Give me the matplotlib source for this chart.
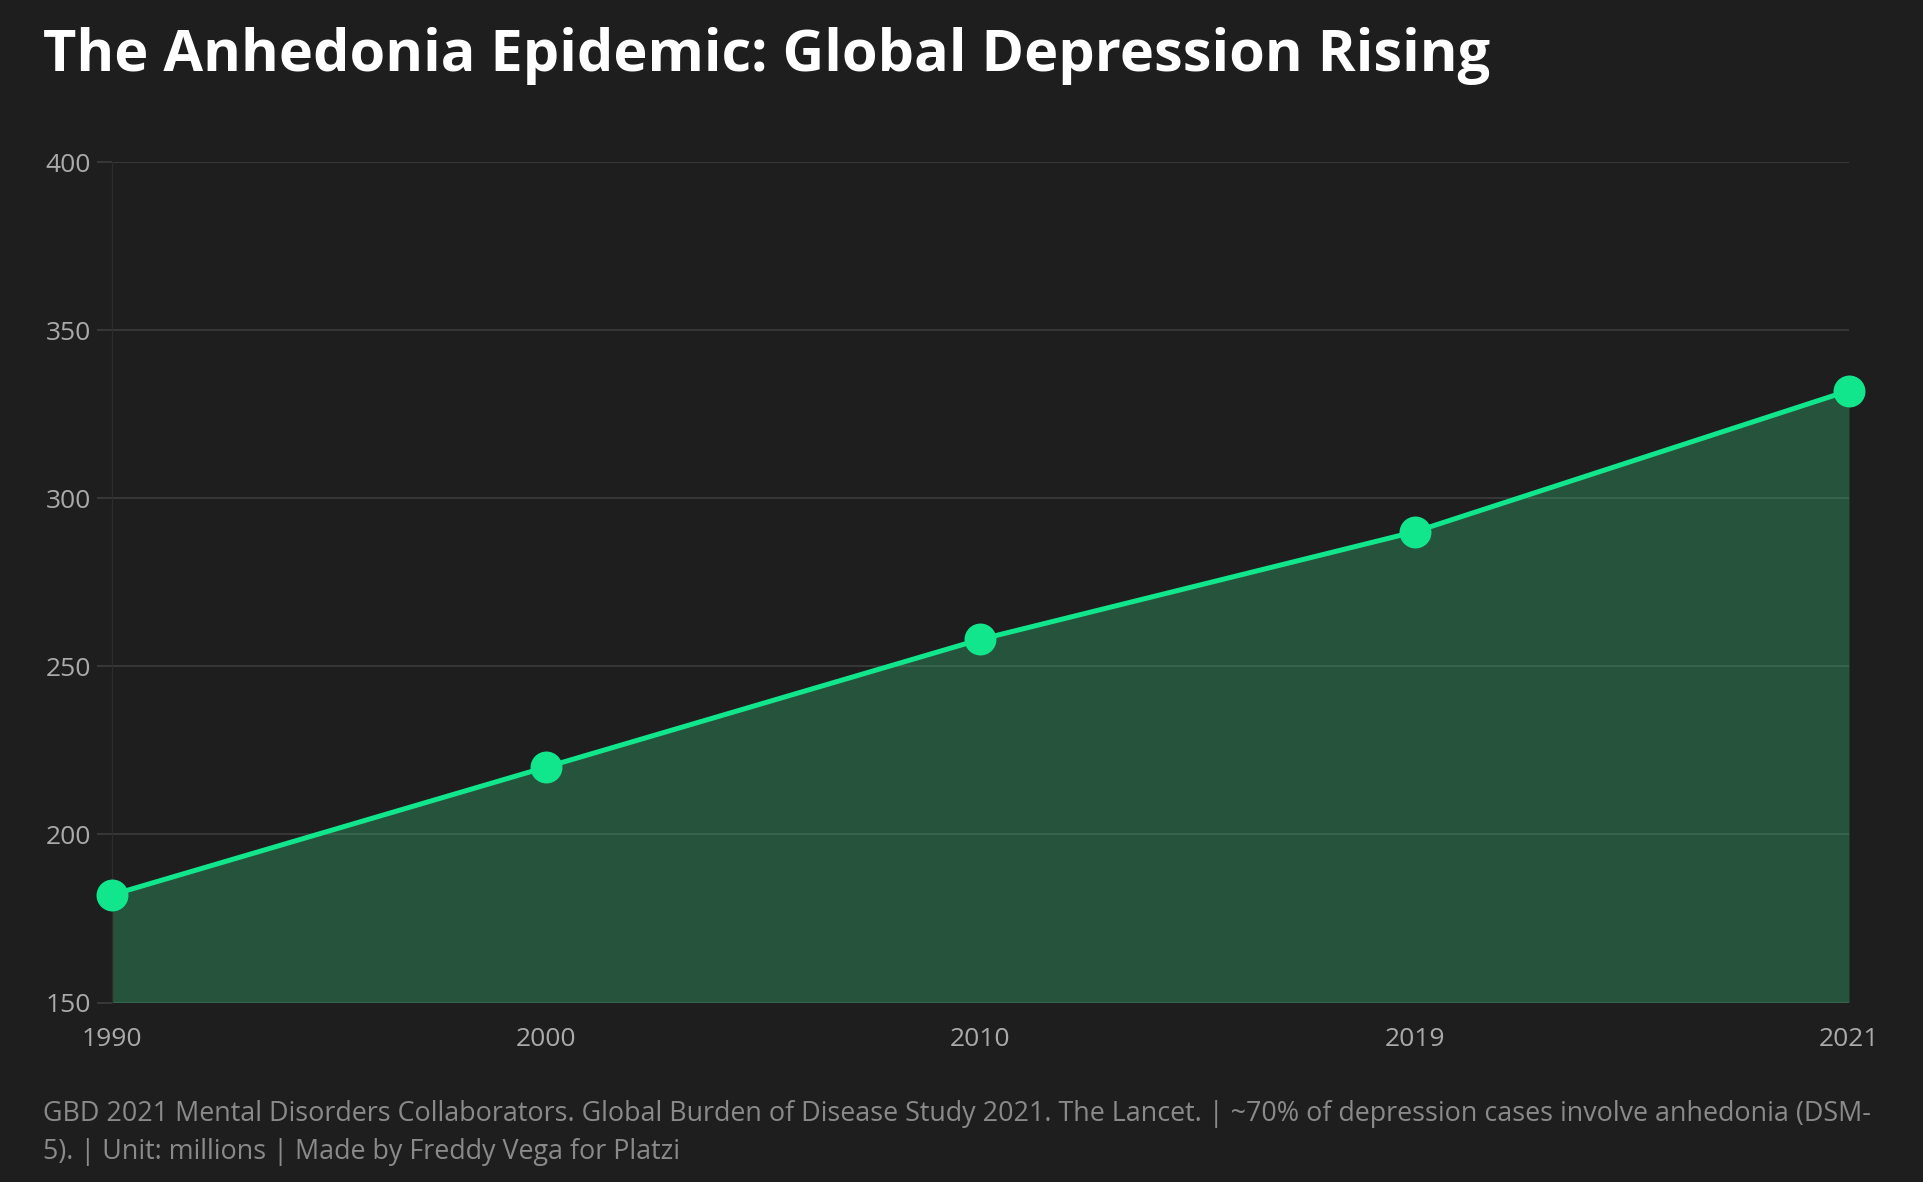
import matplotlib.pyplot as plt

# Datos (millones de casos de depresión)
years = ['1990', '2000', '2010', '2019', '2021']
cases = [182, 220, 258, 290, 332]

bg = '#1e1e1e'
green = '#12e68c'

plt.rcParams['font.family'] = ['Open Sans', 'DejaVu Sans']

fig = plt.figure(figsize=(19.24, 11.82), dpi=100, facecolor=bg)
ax = fig.add_axes([111.7 / 1924, 1 - 1002.5 / 1182, (1849 - 111.7) / 1924, (1002.5 - 162) / 1182])
ax.set_facecolor(bg)

x = list(range(len(years)))
ax.fill_between(x, cases, 150, color='#39cf82', alpha=0.3, linewidth=0, zorder=1)
ax.plot(x, cases, color=green, linewidth=3.6, marker='o', markersize=23,
        markeredgewidth=0, zorder=3, clip_on=False)

ax.set_xlim(0, len(years) - 1)
ax.set_ylim(150, 400)
ax.set_yticks([150, 200, 250, 300, 350, 400])
ax.set_xticks(x)
ax.set_xticklabels(years)

ax.set_axisbelow(True)
ax.grid(axis='y', color='#3a3a3a', linewidth=1.3)
for s in ['top', 'right', 'bottom']:
    ax.spines[s].set_visible(False)
ax.spines['left'].set_color('#2c2c2c')
ax.spines['left'].set_linewidth(1.0)

ax.tick_params(axis='y', colors='#3a3a3a', labelcolor='#aaaaaa', labelsize=19,
               length=11, width=1.3, pad=4)
ax.tick_params(axis='x', length=0, labelcolor='#aaaaaa', labelsize=19, pad=18)

fig.text(43 / 1924, 1 - 71 / 1182, 'The Anhedonia Epidemic: Global Depression Rising',
         color='white', fontsize=41.5, fontweight='bold', ha='left', va='baseline')

footer = ('GBD 2021 Mental Disorders Collaborators. Global Burden of Disease Study 2021. '
          'The Lancet. | ~70% of depression cases involve anhedonia (DSM-\n'
          '5). | Unit: millions | Made by Freddy Vega for Platzi')
fig.text(43 / 1924, 1 - 1133 / 1182, footer, color='#8a8a8a', fontsize=19.4,
         ha='left', va='center', linespacing=1.47)

fig.savefig('out.png', dpi=100, facecolor=bg)
